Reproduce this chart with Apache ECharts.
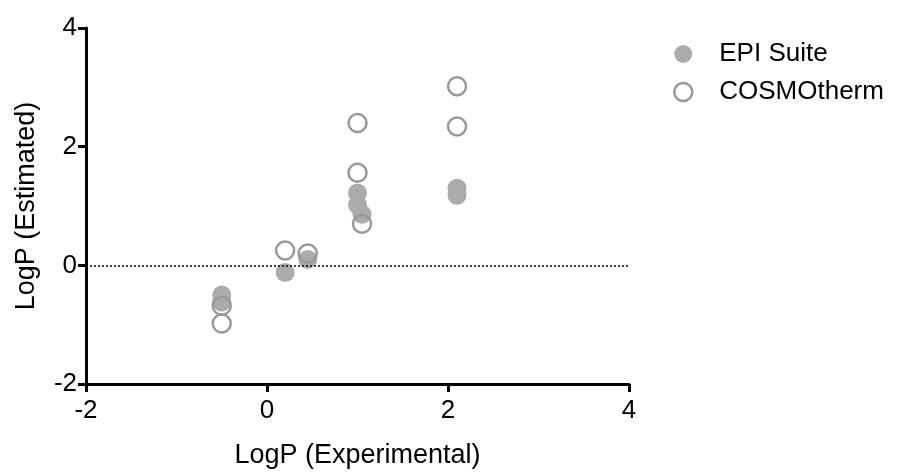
<!DOCTYPE html>
<html>
<head>
<meta charset="utf-8">
<script src="https://cdn.jsdelivr.net/npm/echarts@6/dist/echarts.min.js"></script>
<style>
  html, body { margin: 0; padding: 0; background: #fff; }
  #chart { width: 909px; height: 474px; }
</style>
</head>
<body>
<div id="chart"></div>
<script>
// values: [LogP experimental, LogP estimated]
var epiSuite = [
  [-0.5, -0.5], [-0.5, -0.62],
  [0.2, -0.12],
  [0.45, 0.1],
  [1.0, 1.22], [1.0, 1.02], [1.05, 0.86],
  [2.1, 1.3], [2.1, 1.18]
];
var cosmoTherm = [
  [-0.5, -0.68], [-0.5, -0.98],
  [0.2, 0.25],
  [0.45, 0.2],
  [1.0, 2.4], [1.0, 1.56], [1.05, 0.7],
  [2.1, 3.02], [2.1, 2.34]
];
var seriesNames = ['EPI Suite', 'COSMOtherm'];

var font = 'Liberation Sans, Arial, sans-serif';
var chart = echarts.init(document.getElementById('chart'));

var option = {
  animation: false,
  backgroundColor: '#fff',
  grid: { left: 86, right: 280, top: 28, bottom: 84 },
  legend: {
    orient: 'vertical',
    left: 668,
    top: 36,
    itemWidth: 18,
    itemHeight: 18,
    itemGap: 12,
    textStyle: { fontFamily: font, fontSize: 26, color: '#000', padding: [0, 0, 0, 22] },
    data: [
      { name: seriesNames[0], icon: 'circle', itemStyle: { color: '#ababab', borderWidth: 0 } },
      { name: seriesNames[1], icon: 'circle', itemStyle: { color: '#fff', borderColor: '#999', borderWidth: 2.5 } }
    ]
  },
  xAxis: {
    type: 'value',
    min: -2, max: 4, interval: 2,
    name: 'LogP (Experimental)',
    nameLocation: 'middle',
    nameGap: 58,
    nameTextStyle: { fontFamily: font, fontSize: 27, color: '#000' },
    axisLine: { onZero: false, lineStyle: { color: '#000', width: 3 } },
    axisTick: { length: 8, lineStyle: { color: '#000', width: 3 } },
    axisLabel: { fontFamily: font, fontSize: 26, color: '#000', margin: 14 },
    splitLine: { show: false }
  },
  yAxis: {
    type: 'value',
    min: -2, max: 4, interval: 2,
    name: 'LogP (Estimated)',
    nameLocation: 'middle',
    nameGap: 46,
    nameTextStyle: { fontFamily: font, fontSize: 27, color: '#000' },
    axisLine: { onZero: false, lineStyle: { color: '#000', width: 3 } },
    axisTick: { length: 8, lineStyle: { color: '#000', width: 3 } },
    axisLabel: { fontFamily: font, fontSize: 26, color: '#000', margin: 9 },
    splitLine: { show: false }
  },
  series: [
    {
      name: seriesNames[0],
      type: 'scatter',
      symbolSize: 19,
      itemStyle: { color: '#ababab', opacity: 1 },
      data: epiSuite,
      z: 2,
      markLine: {
        silent: true,
        symbol: 'none',
        label: { show: false },
        lineStyle: { color: '#000', type: [2, 2], width: 1.5 },
        data: [{ yAxis: 0 }]
      }
    },
    {
      name: seriesNames[1],
      type: 'scatter',
      symbolSize: 18,
      itemStyle: { color: 'rgba(255,255,255,0)', borderColor: '#999', borderWidth: 2.5, opacity: 1 },
      data: cosmoTherm,
      z: 3
    }
  ]
};
chart.setOption(option);
</script>
</body>
</html>
